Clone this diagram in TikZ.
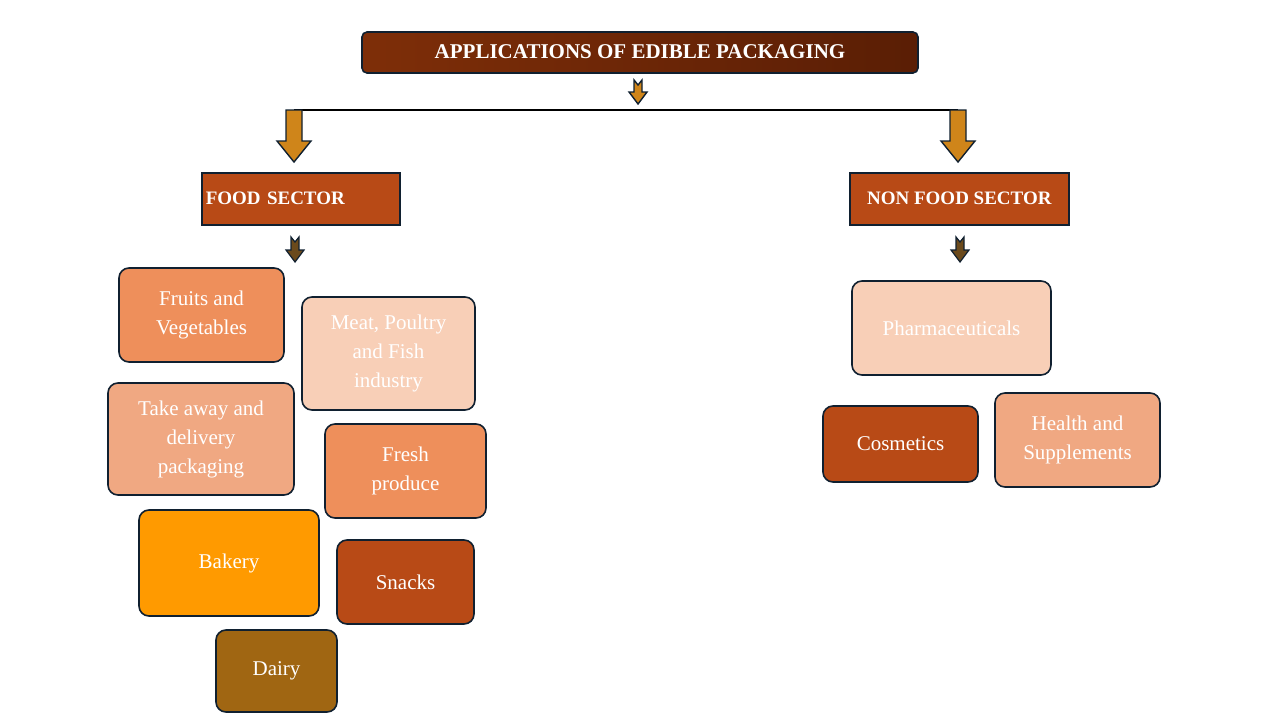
\documentclass[tikz,border=0pt]{standalone}
\usepackage{fontspec}
\setmainfont{Liberation Serif}
\begin{document}
\begin{tikzpicture}[x=1pt,y=-1pt,
  bx/.style={draw=edge,line width=1.6pt,rounded corners=10pt,text=white,align=center,font=\fontsize{21}{29}\selectfont,inner sep=0pt},
  sec/.style={draw=edge,line width=1.6pt,fill=sect,text=white,font=\bfseries\fontsize{19}{22}\selectfont},
  barr/.style={draw=edge,line width=1.4pt,fill=gold},
  sarr/.style={draw=edge,line width=1.2pt,fill=darkb},
  lbl/.style={text=white,align=center,font=\fontsize{21}{29}\selectfont}]
\definecolor{edge}{HTML}{102030}
\definecolor{sect}{HTML}{B84A16}
\definecolor{gold}{HTML}{CF851A}
\definecolor{darkb}{HTML}{6B4A1C}
\definecolor{t1}{HTML}{7E2E08}
\definecolor{t2}{HTML}{5A1E05}
\definecolor{cmid}{HTML}{EE8F5B}
\definecolor{cpale}{HTML}{F8CFB7}
\definecolor{clight}{HTML}{F0A882}
\definecolor{corange}{HTML}{FF9A00}
\definecolor{cdairy}{HTML}{A06612}
\useasboundingbox (0,0) rectangle (1280,720);
\newcommand{\boxat}[6]{\node[bx,fill=#6,minimum width=#3-#1,minimum height=#4-#2] (#5) at ({(#1+#3)/2},{(#2+#4)/2}) {};}
% title
\shade[left color=t1,right color=t2,draw=edge,line width=1.6pt,rounded corners=5pt] (362,32) rectangle (918,73);
\node[text=white,font=\bfseries\fontsize{21}{24}\selectfont] (title) at (640,52) {APPLICATIONS OF EDIBLE PACKAGING};
% top small arrow
\draw[barr] (634,80) -- (638,85) -- (642,80) -- (642,92) -- (647,92) -- (638,104) -- (629,92) -- (634,92) -- cycle;
\draw[line width=2.5pt] (294,110) -- (958,110);
\draw[barr] (286,110) -- (302,110) -- (302,141) -- (311,141) -- (294,162) -- (277,141) -- (286,141) -- cycle;
\draw[barr] (950,110) -- (966,110) -- (966,141) -- (975,141) -- (958,162) -- (941,141) -- (950,141) -- cycle;
% sectors
\node[sec,minimum width=198,minimum height=52,anchor=north west,text width=190,align=left] (food) at (201,172) {FOOD SECTOR};
\node[sec,minimum width=219,minimum height=52,anchor=north west,align=center] (nonfood) at (849,172) {NON FOOD SECTOR};
\draw[sarr] (291,237) -- (295,242) -- (299,237) -- (299,250) -- (304,250) -- (295,262) -- (286,250) -- (291,250) -- cycle;
\draw[sarr] (956,237) -- (960,242) -- (964,237) -- (964,250) -- (969,250) -- (960,262) -- (951,250) -- (956,250) -- cycle;
% boxes
\boxat{119}{268}{284}{362}{fruits}{cmid}
\node[lbl] at (fruits) {Fruits and\\Vegetables};
\boxat{302}{297}{475}{410}{meat}{cpale}
\node[lbl] at (meat) {Meat, Poultry\\and Fish\\industry};
\boxat{108}{383}{294}{495}{take}{clight}
\node[lbl] at (take) {Take away and\\delivery\\packaging};
\boxat{325}{424}{486}{518}{fresh}{cmid}
\node[lbl] at (fresh) {Fresh\\produce};
\boxat{139}{510}{319}{616}{bakery}{corange}
\node[lbl] at (bakery) {Bakery};
\boxat{337}{540}{474}{624}{snacks}{sect}
\node[lbl] at (snacks) {Snacks};
\boxat{216}{630}{337}{712}{dairy}{cdairy}
\node[lbl] at (dairy) {Dairy};
\boxat{852}{281}{1051}{375}{pharma}{cpale}
\node[lbl] at (pharma) {Pharmaceuticals};
\boxat{823}{406}{978}{482}{cosm}{sect}
\node[lbl] at (cosm) {Cosmetics};
\boxat{995}{393}{1160}{487}{health}{clight}
\node[lbl] at (health) {Health and\\Supplements};
\end{tikzpicture}
\end{document}
